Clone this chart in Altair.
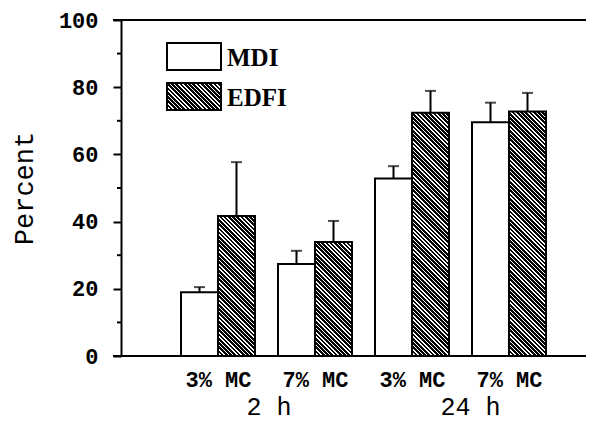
import math
import altair as alt
import pandas as pd

# ---- data ----
time_groups = ["2 h", "2 h", "24 h", "24 h"]
mc_labels = ["3% MC", "7% MC", "3% MC", "7% MC"]
mdi = [19.0, 27.4, 52.8, 69.6]
mdi_err = [1.5, 3.9, 3.7, 5.8]
edfi = [41.7, 33.9, 72.4, 72.8]
edfi_err = [16.0, 6.3, 6.5, 5.5]
series = ["MDI", "EDFI"]
group_labels = ["2 h", "24 h"]
y_ticks = [0, 20, 40, 60, 80, 100]
y_minor = [10, 30, 50, 70, 90]

# ---- layout / style ----
W, H = 465, 336
STEP = 97.0                 # px per category slot
XMAX = W / STEP
BAR = 37.0 / STEP           # bar width in slot units
MONO = "Liberation Mono"
SERIF = "Liberation Serif"
LEG_X, LEG_Y, LEG_W, LEG_H, LEG_PITCH = 46, 23, 54, 27, 40

rows = []
for i in range(len(mdi)):
    p = i + 1
    rows.append(dict(idx=i, pos=p, series="MDI", value=mdi[i], err=mdi_err[i],
                     x0=p - BAR, x1=p, xc=p - BAR / 2))
    rows.append(dict(idx=i, pos=p, series="EDFI", value=edfi[i], err=edfi_err[i],
                     x0=p, x1=p + BAR, xc=p + BAR / 2))
df = pd.DataFrame(rows)
df["top"] = df["value"] + df["err"]

grp_df = pd.DataFrame({"label": group_labels,
                       "g": [sum(j + 1 for j in range(4) if time_groups[j] == g) /
                             time_groups.count(g) for g in group_labels]})
minor_df = pd.DataFrame({"v": y_minor})
frame_df = pd.DataFrame({"v": [0, 100]})


def hatch(w, h, period=3.0, white=0.36):
    """Black fill with thin white '\\' stripes via a striped linear gradient
    (objectBoundingBox units, corrected so stripes run at 45 degrees)."""
    k = (w + h) / (w * w + h * h)
    x2, y2 = k * w, 1 - k * h
    n = (w + h) / math.sqrt(2) / period
    stops = []
    i = 0
    while i < n:
        a = min(i / n, 1)
        b = min((i + 1 - white) / n, 1)
        c = min((i + 1) / n, 1)
        stops += [{"offset": a, "color": "black"}, {"offset": b, "color": "black"}]
        if b < 1:
            stops += [{"offset": b, "color": "white"}, {"offset": c, "color": "white"}]
        i += 1
    return {"gradient": "linear", "x1": 0, "y1": 1, "x2": x2, "y2": y2, "stops": stops}


xscale = alt.Scale(domain=[0, XMAX], nice=False, zero=False)
yscale = alt.Scale(domain=[0, 100], nice=False)

label_expr = "[" + ",".join("'%s'" % s for s in mc_labels) + "][datum.value - 1]"
xaxis = alt.Axis(values=[1, 2, 3, 4], labelExpr=label_expr, domain=False, ticks=False,
                 tickSize=0, grid=False, title=None, labelFont=MONO, labelFontSize=22,
                 labelFontWeight="bold", labelColor="black", labelPadding=13,
                 labelAngle=0)
yaxis = alt.Axis(values=y_ticks, domain=True, domainColor="black", domainWidth=2,
                 ticks=True, tickColor="black", tickWidth=2, tickSize=8, grid=False,
                 labelFont=MONO, labelFontSize=22, labelFontWeight="bold",
                 labelColor="black", labelPadding=15, title="Percent",
                 titleFont=MONO, titleFontSize=27, titleFontWeight="normal",
                 titleColor="black", titlePadding=20)


def X(field):
    return alt.X(field, type="quantitative", scale=xscale, axis=xaxis)


def Y(field):
    return alt.Y(field, type="quantitative", scale=yscale, axis=yaxis)


base = alt.Chart(df)

mdi_bars = base.transform_filter(alt.datum.series == "MDI").mark_rect(
    stroke="black", strokeWidth=2, fill="white"
).encode(x=X("x0"), x2="x1:Q", y=Y("value"), y2=alt.datum(0))

layers = [mdi_bars]
for i, v in enumerate(edfi):
    g = hatch(BAR * STEP, v * H / 100.0)
    layers.append(
        base.transform_filter((alt.datum.series == "EDFI") & (alt.datum.idx == i))
        .mark_rect(stroke="black", strokeWidth=2, fill=g)
        .encode(x=X("x0"), x2="x1:Q", y=Y("value"), y2=alt.datum(0))
    )

err_rule = base.mark_rule(color="black", strokeWidth=2).encode(
    x=X("xc"), y=Y("value"), y2="top:Q")
err_cap = base.mark_tick(color="black", orient="horizontal", size=11, thickness=2).encode(
    x=X("xc"), y=Y("top"))

minor = alt.Chart(minor_df).mark_rule(color="black", strokeWidth=2).encode(
    y=Y("v"), x=alt.value(-4), x2=alt.value(0))
frame = alt.Chart(frame_df).mark_rule(color="black", strokeWidth=2).encode(
    y=Y("v"), x=alt.value(-8), x2=alt.value(W))

grp_text = alt.Chart(grp_df).mark_text(
    font=MONO, fontSize=25, color="black", align="left", baseline="alphabetic", dx=-20
).encode(x=X("g"), y=alt.value(H + 59), text="label:N")

# ---- legend (drawn as a key box + label per series) ----
legend_layers = []
leg_fills = ["white", hatch(LEG_W, LEG_H)]
for j, name in enumerate(series):
    ldf = pd.DataFrame({"s": [name]})
    y0 = LEG_Y + LEG_PITCH * j
    legend_layers.append(
        alt.Chart(ldf).mark_rect(stroke="black", strokeWidth=2, fill=leg_fills[j]).encode(
            x=alt.value(LEG_X), x2=alt.value(LEG_X + LEG_W),
            y=alt.value(y0), y2=alt.value(y0 + LEG_H)))
    legend_layers.append(
        alt.Chart(ldf).mark_text(font=SERIF, fontSize=25, fontWeight="bold", color="black",
                                 align="left", baseline="middle").encode(
            x=alt.value(LEG_X + LEG_W + 6), y=alt.value(y0 + LEG_H / 2 + 1), text="s:N"))

chart = alt.layer(*layers, err_rule, err_cap, minor, frame, grp_text, *legend_layers).properties(
    width=W, height=H,
    autosize=alt.AutoSizeParams(type="none"),
    padding={"left": 113, "top": 12, "right": 0, "bottom": 67},
    background="white",
).configure_view(stroke=None)

chart.save("out.html", embed_options={"renderer": "svg", "actions": False})
